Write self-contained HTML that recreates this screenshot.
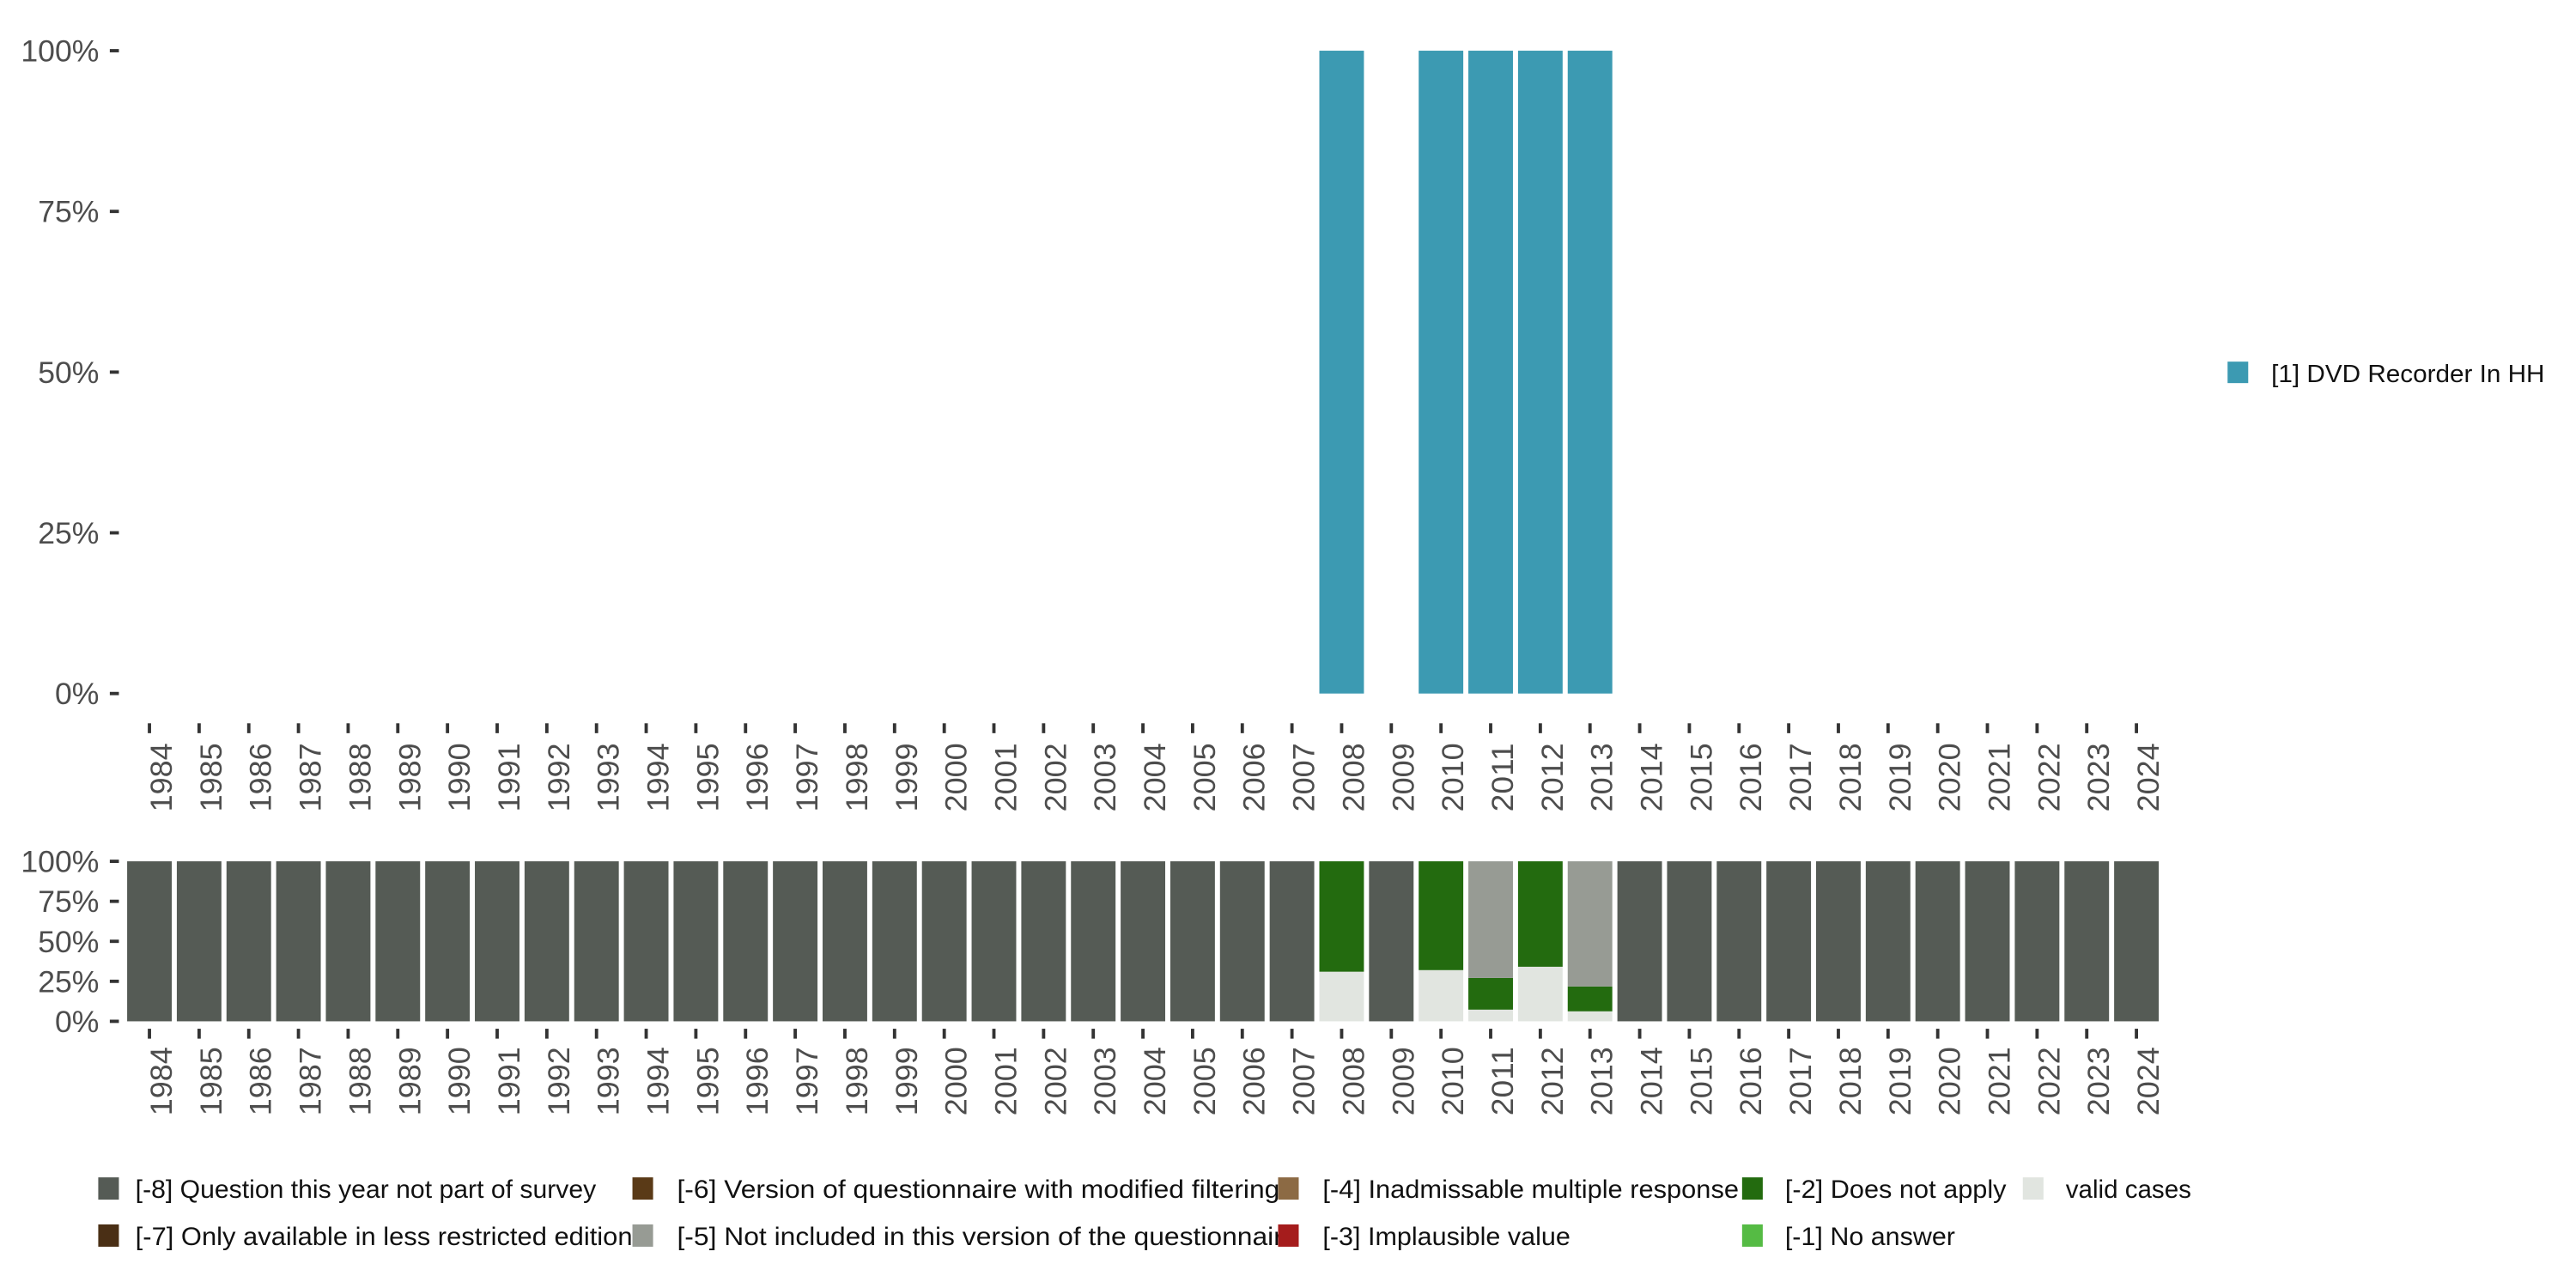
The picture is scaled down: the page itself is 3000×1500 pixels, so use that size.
<!DOCTYPE html>
<html><head><meta charset="utf-8"><style>
html,body{margin:0;padding:0;background:#fff;}
svg{display:block;font-family:"Liberation Sans",sans-serif;}
</style></head><body>
<svg id="chart" width="3000" height="1500" viewBox="0 0 1560 780" xmlns="http://www.w3.org/2000/svg">
<g id="topChart"></g>
<g id="botChart"></g>
<g id="legendGroup"></g>
</svg>
<script>
const years = [];
for (let y = 1984; y <= 2024; y++) years.push(y);
const topYears = [2008, 2010, 2011, 2012, 2013];
const topValues = [1, 1, 1, 1, 1];
const yTicks = [0, 0.25, 0.5, 0.75, 1];
const yTickLabels = ["0%", "25%", "50%", "75%", "100%"];
const missYears = [2008, 2010, 2011, 2012, 2013];
const validShare = [0.31, 0.32, 0.073, 0.341, 0.0625];
const doesNotApply = [0.69, 0.68, 0.198, 0.659, 0.1555];
const notIncluded = [0, 0, 0.729, 0, 0.782];
const legendLabels = ["[-8] Question this year not part of survey","[-7] Only available in less restricted edition","[-6] Version of questionnaire with modified filtering","[-5] Not included in this version of the questionnaire","[-4] Inadmissable multiple response","[-3] Implausible value","[-2] Does not apply","[-1] No answer","valid cases"];
const legendColors = ["#555b55","#4a2f15","#5a3a17","#979b94","#8c6a44","#a51c1c","#236b0f","#55bb44","#e1e5e0"];

const NS = "http://www.w3.org/2000/svg";
function mk(parent, tag, attrs, text){
  const e = document.createElementNS(NS, tag);
  for (const k in attrs) e.setAttribute(k, attrs[k]);
  if (text !== undefined) e.textContent = text;
  parent.appendChild(e); return e;
}
const x0 = 90.5, step = (1293.8 - 90.5) / 40, bw = 27;
function xS(year){ return x0 + (year - 1984) * step; }
function yTop(v){ return 420 - v * 389.3; }
function yBot(v){ return 618.5 - v * 96.9; }

const gTop = document.getElementById('topChart');
const gBot = document.getElementById('botChart');
const gLeg = document.getElementById('legendGroup');

[[gTop, yTop, 'top'], [gBot, yBot, 'bottom']].forEach(([g, yf, nm]) => {
  yTicks.forEach((t, i) => {
    const l = mk(g, 'line', {x1:66.5, x2:72, y1:yf(t), y2:yf(t), stroke:'#333', 'stroke-width':2});
    
    
    const tx = mk(g, 'text', {x:60, y:yf(t)+6.5, 'text-anchor':'end', 'font-size':18.5, fill:'#4d4d4d'}, yTickLabels[i]);
    
    
  });
});
years.forEach(yr => {
  const x = xS(yr);
  [[gTop, 438, 450], [gBot, 623, 634]].forEach(([g, ty, ly]) => {
    const l = mk(g, 'line', {x1:x, x2:x, y1:ty, y2:ty+6, stroke:'#333', 'stroke-width':2});
    
    
    const tx = mk(g, 'text', {x:0, y:0, transform:`translate(${x+13.5},${ly}) rotate(-90)`, 'text-anchor':'end', 'font-size':18.5, fill:'#4d4d4d', textLength:41.6, lengthAdjust:'spacingAndGlyphs'}, String(yr));
    
    
  });
});
topYears.forEach((yr, i) => {
  const r = mk(gTop, 'rect', {x:xS(yr)-bw/2, y:yTop(topValues[i]), width:bw, height:yTop(0)-yTop(topValues[i]), fill:'#3c9ab2'});
  
  
});
years.forEach(yr => {
  const i = missYears.indexOf(yr);
  let segs;
  if (i < 0) segs = [[1, '#555b55']];
  else segs = [[validShare[i], '#e1e5e0'], [doesNotApply[i], '#236b0f'], [notIncluded[i], '#979b94']];
  let acc = 0;
  segs.forEach(([v, c]) => {
    if (v <= 0) return;
    const r = mk(gBot, 'rect', {x:xS(yr)-bw/2, y:yBot(acc+v), width:bw, height:yBot(acc)-yBot(acc+v), fill:c});
    
    
    acc += v;
  });
});
const rl = mk(gLeg, 'rect', {x:1349, y:219, width:12.5, height:13, fill:'#3c9ab2'});


const rt = mk(gLeg, 'text', {x:1375.5, y:231.5, 'font-size':15, fill:'#111', textLength:165.5, lengthAdjust:'spacingAndGlyphs'}, '[1] DVD Recorder In HH');


const swX = [59.5, 383, 774, 1055, 1225];
const txX = [82, 410, 801, 1081, 1251];
const txW = [279, 301, 365, 376, 252, 150, 134, 103, 76];
legendLabels.forEach((lab, i) => {
  const col = Math.floor(i / 2), row = i % 2;
  const y = row === 0 ? 713 : 741.5;
  const s = mk(gLeg, 'rect', {x:swX[col], y:y, width:12.5, height:13.5, fill:legendColors[i]});
  
  
  const t = mk(gLeg, 'text', {x:txX[col], y:y+12.5, 'font-size':15.5, fill:'#111', textLength:txW[i], lengthAdjust:'spacingAndGlyphs'}, lab);
  
  
});
</script>
</body></html>
